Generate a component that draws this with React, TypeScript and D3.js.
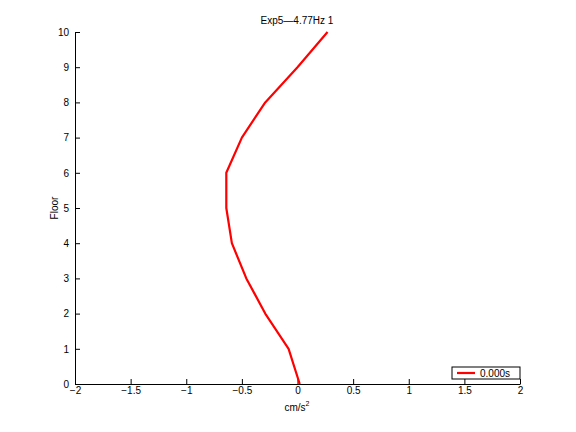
import { useEffect, useRef } from 'react';
import * as d3 from 'd3';

const floors = [0, 1, 2, 3, 4, 5, 6, 7, 8, 9, 10];
const accel = [0.02, -0.08, -0.29, -0.46, -0.59, -0.64, -0.64, -0.5, -0.29, 0.0, 0.27];
const xTicks = [-2, -1.5, -1, -0.5, 0, 0.5, 1, 1.5, 2];
const yTicks = [0, 1, 2, 3, 4, 5, 6, 7, 8, 9, 10];
const title = 'Exp5\u20144.77Hz 1';
const legendLabel = '0.000s';

const App = () => {
  const ref = useRef<SVGSVGElement>(null);
  useEffect(() => {
    const width = 576;
    const height = 432;
    const marginLeft = 75;
    const marginRight = 56;
    const marginTop = 32;
    const marginBottom = 48;
    const font = 'Liberation Sans, Arial, sans-serif';

    const x = d3.scaleLinear().domain([-2, 2]).range([marginLeft, width - marginRight]);
    const y = d3.scaleLinear().domain([0, 10]).range([height - marginBottom, marginTop]);

    const svg = d3.select(ref.current!);
    svg.selectAll('*').remove();
    svg.append('rect').attr('width', width).attr('height', height).attr('fill', '#fff');

    // bottom axis, ticks inward
    svg.append('g')
      .attr('transform', `translate(0,${y(0)})`)
      .call(d3.axisBottom(x).tickValues(xTicks).tickSize(-5).tickSizeOuter(0)
        .tickFormat((d) => String(d).replace('-', '\u2212')))
      .call((g) => g.select('.domain').attr('stroke', '#000'))
      .call((g) => g.selectAll('.tick text').attr('dy', '0.2em').attr('y', 8))
      .attr('font-family', font)
      .attr('font-size', 10);

    // left axis, ticks inward
    svg.append('g')
      .attr('transform', `translate(${x(-2)},0)`)
      .call(d3.axisLeft(y).tickValues(yTicks).tickSize(-5).tickSizeOuter(0))
      .call((g) => g.selectAll('.tick text').attr('x', -6))
      .attr('font-family', font)
      .attr('font-size', 10);

    // curve
    const line = d3.line<number>()
      .x((d) => x(d))
      .y((_, i) => y(floors[i]));
    svg.append('path')
      .datum(accel)
      .attr('fill', 'none')
      .attr('stroke', '#ff0000')
      .attr('stroke-width', 2.2)
      .attr('stroke-linejoin', 'round')
      .attr('d', line);

    // title
    svg.append('text')
      .attr('x', 297)
      .attr('y', 24)
      .attr('text-anchor', 'middle')
      .attr('font-family', font)
      .attr('font-size', 10)
      .text(title);

    // x label
    const xl = svg.append('text')
      .attr('x', 297)
      .attr('y', 411)
      .attr('text-anchor', 'middle')
      .attr('font-family', font)
      .attr('font-size', 10);
    xl.append('tspan').text('cm/s');
    xl.append('tspan').attr('dy', -5).attr('font-size', 7).text('2');

    // y label
    svg.append('text')
      .attr('transform', `translate(58,${y(5)}) rotate(-90)`)
      .attr('text-anchor', 'middle')
      .attr('font-family', font)
      .attr('font-size', 10)
      .text('Floor');

    // legend
    const lg = svg.append('g').attr('transform', 'translate(452,367)');
    lg.append('rect')
      .attr('width', 68)
      .attr('height', 12)
      .attr('fill', '#fff')
      .attr('stroke', '#000')
      .attr('stroke-width', 1);
    lg.append('line')
      .attr('x1', 5).attr('x2', 23)
      .attr('y1', 6).attr('y2', 6)
      .attr('stroke', '#ff0000')
      .attr('stroke-width', 2.2);
    lg.append('text')
      .attr('x', 28)
      .attr('y', 10)
      .attr('font-family', font)
      .attr('font-size', 10)
      .text(legendLabel);
  }, []);

  return (
    <svg ref={ref} width={576} height={432}
      style={{ position: 'absolute', left: 0, top: 0 }} />
  );
};

export default App;
